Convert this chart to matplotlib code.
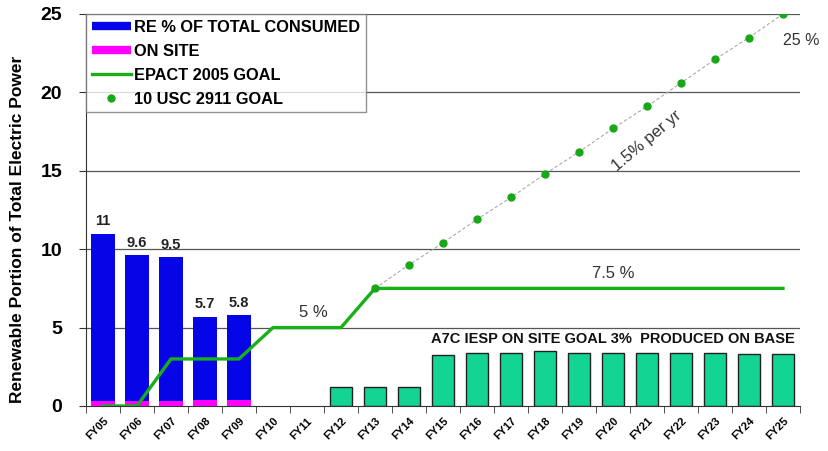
import matplotlib
matplotlib.use('Agg')
import matplotlib.pyplot as plt
from matplotlib.lines import Line2D
import numpy as np

plt.rcParams['font.family'] = ['Liberation Sans', 'DejaVu Sans']

# data
years = ['FY05', 'FY06', 'FY07', 'FY08', 'FY09', 'FY10', 'FY11', 'FY12', 'FY13', 'FY14',
         'FY15', 'FY16', 'FY17', 'FY18', 'FY19', 'FY20', 'FY21', 'FY22', 'FY23', 'FY24', 'FY25']
re_total = [11, 9.6, 9.5, 5.7, 5.8]
on_site = [0.3, 0.3, 0.3, 0.4, 0.4]
iesp_years = years[7:]
iesp_goal = [1.2, 1.2, 1.2, 3.25, 3.4, 3.35, 3.5, 3.4, 3.4, 3.4, 3.35, 3.35, 3.3, 3.3]
epact_goal = [0, 0, 3, 3, 3, 5, 5, 5, 7.5, 7.5, 7.5, 7.5, 7.5, 7.5, 7.5,
              7.5, 7.5, 7.5, 7.5, 7.5, 7.5]
usc_years = years[8:]
usc_goal = [7.5, 9.0, 10.4, 11.9, 13.3, 14.8, 16.2, 17.7, 19.1, 20.6, 22.1, 23.5, 25.0]

BLUE = '#0505E8'
MAGENTA = '#FF00FF'
GREEN = '#18B018'

x = np.arange(len(years))
pos = {y: i for i, y in enumerate(years)}

fig = plt.figure(figsize=(8.29, 4.51), dpi=100)
ax = fig.add_axes([0.1037, 0.0998, 0.8613, 0.8692])

# gridlines
for g in [5, 10, 15, 20, 25]:
    ax.axhline(g, color='#555555', lw=0.9, zorder=0)

w = 0.68
ax.bar(x[:5], re_total, width=w, color=BLUE, zorder=2)
ax.bar(x[:5], on_site, width=w, color=MAGENTA, zorder=3)
ax.bar([pos[y] for y in iesp_years], iesp_goal, width=0.62, color='#14D494',
       edgecolor='#222222', lw=1.0, zorder=2)

ax.plot(x, epact_goal, color=GREEN, lw=2.4, zorder=4)
ux = [pos[y] for y in usc_years]
ax.plot(ux, usc_goal, color='#AAAAAA', lw=0.8, ls=(0, (3, 2)), zorder=3)
ax.plot(ux, usc_goal, 'o', color='#17A817', ms=5, zorder=5)

# value labels
for i, v in enumerate(re_total):
    ax.text(i, v + 0.35, '%g' % v, ha='center', va='bottom', fontsize=10.5,
            fontweight='bold', color='#222222')

ax.text(6.2, 5.5, '5 %', ha='center', va='bottom', fontsize=12, color='#333333')
ax.text(15.0, 8.0, '7.5 %', ha='center', va='bottom', fontsize=12, color='#333333')
ax.text(20.0, 23.3, '25 %', ha='left', va='center', fontsize=11.5, color='#333333')
ax.text(16.0, 16.9, '1.5% per yr', ha='center', va='center', fontsize=12, color='#333333',
        rotation=40)
ax.text(15.0, 4.3, 'A7C IESP ON SITE GOAL 3%  PRODUCED ON BASE', ha='center', va='center',
        fontsize=10.5, fontweight='bold', color='#111111')

ax.set_xlim(-0.5, 20.5)
ax.set_ylim(0, 25)
ax.set_yticks([0, 5, 10, 15, 20, 25])
ax.set_yticklabels(['0', '5', '10', '15', '20', '25'], fontsize=14, fontweight='bold')
ax.set_xticks(x)
ax.set_xticklabels(years, rotation=45, fontsize=8, fontweight='bold', ha='right',
                   rotation_mode='anchor')
ax.tick_params(axis='x', length=0, pad=7)
ax.set_xticks(np.arange(-0.5, 21, 1), minor=True)
ax.tick_params(axis='x', which='minor', length=5, direction='out', color='#333333')
ax.tick_params(axis='y', length=5, direction='out', color='#333333', pad=12)
ax.set_ylabel('Renewable Portion of Total Electric Power', fontsize=12.5, fontweight='bold')
ax.yaxis.set_label_coords(-0.085, 0.45)

for s in ['top', 'right']:
    ax.spines[s].set_visible(False)
ax.spines['left'].set_color('#333333')
ax.spines['bottom'].set_color('#333333')

handles = [
    Line2D([], [], color=BLUE, lw=6, solid_capstyle='butt'),
    Line2D([], [], color=MAGENTA, lw=6, solid_capstyle='butt'),
    Line2D([], [], color=GREEN, lw=2.4),
    Line2D([], [], color='#17A817', marker='o', ms=5, ls='none'),
]
labels = ['RE % OF TOTAL CONSUMED', 'ON SITE', 'EPACT 2005 GOAL', '10 USC 2911 GOAL']
leg = ax.legend(handles, labels, loc='upper left', bbox_to_anchor=(0.0, 1.0),
                prop={'weight': 'bold', 'size': 11.8},
                frameon=True, fancybox=False, edgecolor='#777777', handlelength=2.4,
                handletextpad=0.2, labelspacing=0.55, borderaxespad=0.0, borderpad=0.35)
leg.get_frame().set_linewidth(1.0)
leg.set_zorder(10)

fig.savefig('out.png', dpi=100)
